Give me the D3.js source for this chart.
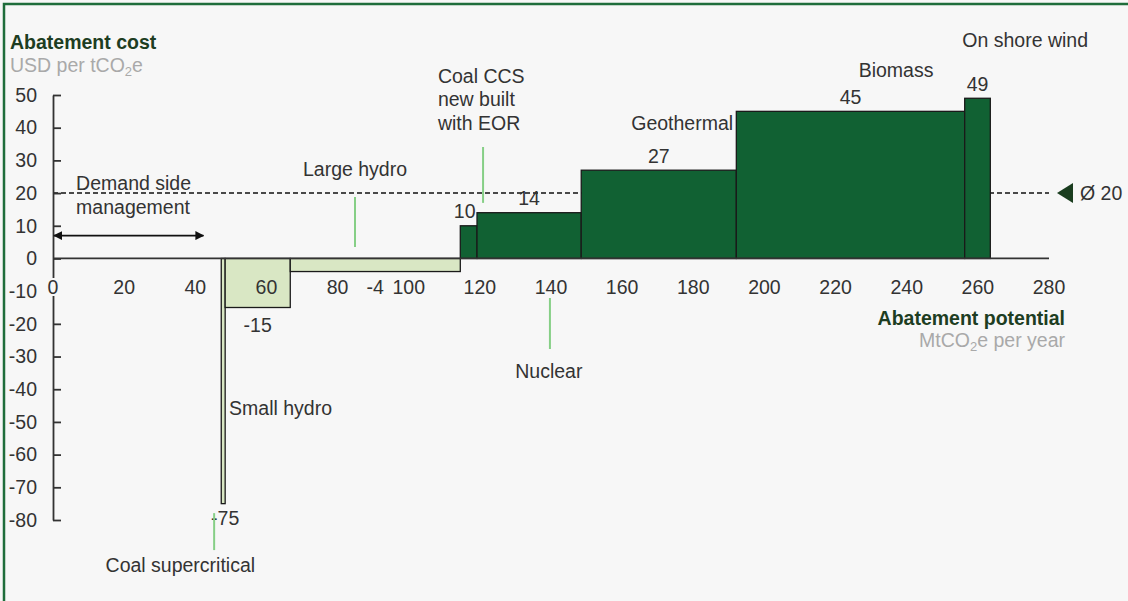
<!DOCTYPE html>
<html>
<head>
<meta charset="utf-8">
<script src="https://cdn.jsdelivr.net/npm/d3@7/dist/d3.min.js"></script>
<style>
  html, body { margin: 0; padding: 0; background: #f7f7f7; }
  svg { display: block; font-family: "Liberation Sans", Arial, sans-serif; }
</style>
</head>
<body>
<svg id="chart" width="1128" height="601"></svg>
<script>
// Abatement options, left to right along the cumulative potential axis
const options = ["Coal supercritical", "Small hydro", "Large hydro", "Coal CCS new built with EOR",
                 "Nuclear", "Geothermal", "Biomass", "On shore wind"];
// Abatement potential of each option (MtCO2e per year)
const potential = [1.1, 18.3, 47.8, 4.7, 29.3, 43.6, 64.2, 7.2];
// Abatement cost of each option (USD per tCO2e)
const cost = [-75, -15, -4, 10, 14, 27, 45, 49];
// Demand side management potential, shown as an arrow before the first bar
const demandSide = 47.3;
// Average abatement cost
const averageCost = 20;

const xTicks = [0, 20, 40, 60, 80, 100, 120, 140, 160, 180, 200, 220, 240, 260, 280];
const yTicks = [50, 40, 30, 20, 10, 0, -10, -20, -30, -40, -50, -60, -70, -80];

const FONT = 19.5;
const TEXT = "#333333";
const DARK = "#116133";
const LIGHT = "#d9e7c4";
const LEADER = "#86cf86";
const TITLE = "#1d3d22";
const SUB = "#a9a9a9";

const svg = d3.select("#chart");

// frame
svg.append("rect").attr("x", 4).attr("y", 4).attr("width", 1140).attr("height", 612)
  .attr("fill", "#f7f7f7").attr("stroke", "#1f6d3b").attr("stroke-width", 2.5);

const x = d3.scaleLinear().domain([0, 280]).range([53, 1049]);
const y = d3.scaleLinear().domain([-80, 50]).range([520, 95]);

// bar extents from cumulative potential
let acc = demandSide;
const bars = options.map((name, i) => {
  const b = { name, x0: acc, x1: acc + potential[i], v: cost[i] };
  acc += potential[i];
  return b;
});

// average cost line
svg.append("line")
  .attr("x1", x(0)).attr("x2", x(280)).attr("y1", y(averageCost)).attr("y2", y(averageCost))
  .attr("stroke", "#111").attr("stroke-width", 1.5).attr("stroke-dasharray", "5,3");

// bars
svg.append("g").selectAll("rect").data(bars).join("rect")
  .attr("x", d => x(d.x0))
  .attr("width", d => x(d.x1) - x(d.x0))
  .attr("y", d => y(Math.max(0, d.v)))
  .attr("height", d => Math.abs(y(d.v) - y(0)))
  .attr("fill", d => d.v < 0 ? LIGHT : DARK)
  .attr("stroke", "#1a1a1a").attr("stroke-width", 1.3);

// x axis line at zero
svg.append("line").attr("x1", x(0)).attr("x2", x(280)).attr("y1", y(0)).attr("y2", y(0))
  .attr("stroke", "#333").attr("stroke-width", 1.8);

// y axis
const yAxis = d3.axisLeft(y).tickValues(yTicks).tickFormat(d => String(d))
  .tickSizeInner(-8).tickSizeOuter(0).tickPadding(16);
const gy = svg.append("g").attr("transform", `translate(${x(0)},0)`).call(yAxis);
gy.select(".domain").attr("stroke", "#333").attr("stroke-width", 1.8);
gy.selectAll(".tick line").attr("stroke", "#333").attr("stroke-width", 1.8);
gy.selectAll(".tick text").attr("font-size", FONT).attr("fill", TEXT)
  .attr("font-family", "Liberation Sans, Arial, sans-serif");

// x tick labels (below the zero line)
const xLab = svg.append("g");
xLab.selectAll("rect").data(xTicks.filter(d => d === 0)).join("rect")
  .attr("x", d => x(d) - 7).attr("y", 278).attr("width", 16).attr("height", 18)
  .attr("fill", "#f7f7f7");
xLab.selectAll("text").data(xTicks).join("text")
  .attr("x", d => x(d)).attr("y", 294)
  .attr("text-anchor", "middle").attr("font-size", FONT).attr("fill", TEXT)
  .text(d => d);

// value labels
const vals = svg.append("g").attr("font-size", FONT).attr("fill", TEXT).attr("text-anchor", "middle");
bars.forEach((b, i) => {
  let tx = (x(b.x0) + x(b.x1)) / 2, ty;
  if (b.v >= 0) { ty = y(b.v) - 7.5; if (x(b.x1) - x(b.x0) < 20) tx -= 4; }
  else if (b.v <= -50) { tx = x(b.x1); ty = y(b.v) + 21; }
  else if (b.v <= -10) ty = y(b.v) + 24;
  else ty = 294;
  vals.append("text").attr("x", tx).attr("y", ty).text(b.v);
});

// average marker
svg.append("path")
  .attr("d", d3.line()([[x(280) + 8, y(averageCost)], [x(280) + 24, y(averageCost) - 10], [x(280) + 24, y(averageCost) + 10]]) + "Z")
  .attr("fill", "#1a3d1f");
svg.append("text").attr("x", x(280) + 31).attr("y", y(averageCost) + 7)
  .attr("font-size", FONT).attr("fill", TEXT).text("Ø " + averageCost);

// demand side management arrow
const arrowY = y(7);
svg.append("defs").append("marker")
  .attr("id", "head").attr("viewBox", "0 0 10 10").attr("refX", 9).attr("refY", 5)
  .attr("markerWidth", 9).attr("markerHeight", 9).attr("markerUnits", "userSpaceOnUse")
  .attr("orient", "auto-start-reverse")
  .append("path").attr("d", "M0,0 L10,5 L0,10 Z").attr("fill", "#111");
svg.append("line")
  .attr("x1", x(0) + 1).attr("x2", x(42.3)).attr("y1", arrowY).attr("y2", arrowY)
  .attr("stroke", "#111").attr("stroke-width", 1.8)
  .attr("marker-start", "url(#head)").attr("marker-end", "url(#head)");

// option labels: [lines, x, y (baseline of first line), anchor]
const labels = [
  [["Demand side", "management"], 6.5, 20.9, "start"],
  [["Large hydro"], 84.9, 25.3, "middle"],
  [["Coal CCS", "new built", "with EOR"], 108.2, 53.7, "start"],
  [["Geothermal"], 191.2, 39.3, "end"],
  [["Biomass"], 237.0, 55.5, "middle"],
  [["On shore wind"], 273.3, 64.7, "middle"],
  [["Nuclear"], 139.4, -36.6, "middle"],
  [["Small hydro"], 49.5, -47.9, "start"],
  [["Coal supercritical"], 35.8, -95.8, "middle"]
];
const lab = svg.append("g").attr("font-size", FONT).attr("fill", TEXT);
labels.forEach(([lines, lx, ly, anchor]) => {
  const t = lab.append("text").attr("x", x(lx)).attr("y", y(ly)).attr("text-anchor", anchor);
  lines.forEach((s, i) => t.append("tspan").attr("x", x(lx)).attr("dy", i ? 23.5 : 0).text(s));
});

// leader lines: [x, y from, y to]
const leaders = [[84.9, 18.8, 3.5], [120.9, 34.1, 17.0], [139.7, -12.1, -27.7], [45.3, -77.9, -89.2]];
svg.append("g").selectAll("line").data(leaders).join("line")
  .attr("x1", d => x(d[0])).attr("x2", d => x(d[0]))
  .attr("y1", d => y(d[1])).attr("y2", d => y(d[2]))
  .attr("stroke", LEADER).attr("stroke-width", 2);

// axis titles
svg.append("text").attr("x", 10).attr("y", 49).attr("font-size", FONT).attr("font-weight", "bold")
  .attr("fill", TITLE).text("Abatement cost");
const ySub = svg.append("text").attr("x", 10).attr("y", 72).attr("font-size", FONT).attr("fill", SUB);
ySub.append("tspan").text("USD per tCO");
ySub.append("tspan").attr("font-size", 13).attr("dy", 4).text("2");
ySub.append("tspan").attr("dy", -4).text("e");

svg.append("text").attr("x", 1065).attr("y", 325).attr("text-anchor", "end").attr("font-size", FONT)
  .attr("font-weight", "bold").attr("fill", TITLE).text("Abatement potential");
const xSub = svg.append("text").attr("x", 1065).attr("y", 347).attr("text-anchor", "end")
  .attr("font-size", FONT).attr("fill", SUB);
xSub.append("tspan").text("MtCO");
xSub.append("tspan").attr("font-size", 13).attr("dy", 4).text("2");
xSub.append("tspan").attr("dy", -4).text("e per year");
</script>
</body>
</html>
